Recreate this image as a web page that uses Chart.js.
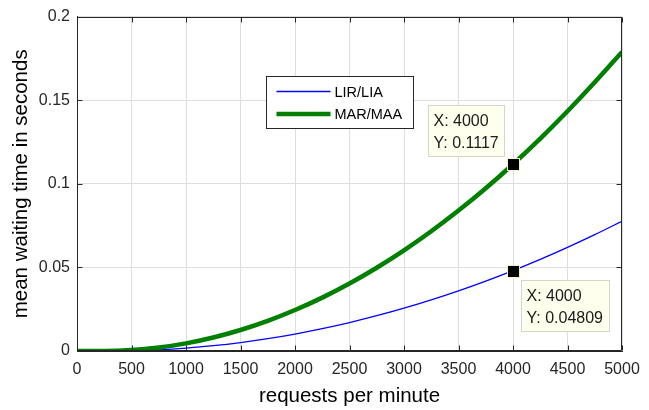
<!DOCTYPE html>
<html>
<head>
<meta charset="utf-8">
<script src="https://cdn.jsdelivr.net/npm/chart.js@4/dist/chart.umd.min.js"></script>
<style>
  html, body { margin: 0; padding: 0; background: #fff; }
  #wrap { width: 649px; height: 410px; }
</style>
</head>
<body>
<div id="wrap"><canvas id="waitChart"></canvas></div>
<script>
// requests per minute (x) and mean waiting time in seconds (y)
var requestRates = [0, 250, 500, 750, 1000, 1250, 1500, 1750, 2000, 2250, 2500,
                    2750, 3000, 3250, 3500, 3750, 4000, 4250, 4500, 4750, 5000];
var lirWait = [0, 0, 0.00014, 0.00071, 0.00172, 0.00317, 0.00506, 0.00739, 0.01015, 0.01336, 0.0170,
               0.02109, 0.02561, 0.03057, 0.03597, 0.04181, 0.04809, 0.05481, 0.06197, 0.06957, 0.0776];
var marWait = [0, 0, 0.00054, 0.00206, 0.00457, 0.00807, 0.01256, 0.01803, 0.02449, 0.03193, 0.04036,
               0.04978, 0.06019, 0.07159, 0.08397, 0.09734, 0.1117, 0.12703, 0.14336, 0.16068, 0.1789];
var seriesNames = ['LIR/LIA', 'MAR/MAA'];
var tipRate = 4000;

var axisColor = '#262626';
var gridColor = '#dedede';
var fontFamily = '"Liberation Sans", Arial, Helvetica, sans-serif';

function toPoints(ys) {
    var pts = [];
    for (var i = 0; i < requestRates.length; i++) {
        pts.push({x: requestRates[i], y: ys[i]});
    }
    return pts;
}

// box around the axes with inward tick marks on all four sides
var axesBox = {
    id: 'axesBox',
    afterDatasetsDraw: function (chart) {
        var ctx = chart.ctx, a = chart.chartArea;
        var xs = chart.scales.x, ys = chart.scales.y;
        var L = Math.round(a.left) + 0.5, R = Math.round(a.right) - 0.5;
        var T = Math.round(a.top) + 0.5, B = Math.round(a.bottom) - 0.5;
        ctx.save();
        ctx.strokeStyle = axisColor;
        ctx.lineWidth = 1;
        ctx.beginPath();
        ctx.rect(L, T, R - L, B - T);
        xs.ticks.forEach(function (t) {
            var px = Math.round(xs.getPixelForValue(t.value)) + 0.5;
            ctx.moveTo(px, B); ctx.lineTo(px, B - 5);
            ctx.moveTo(px, T); ctx.lineTo(px, T + 5);
        });
        ys.ticks.forEach(function (t) {
            var py = Math.round(ys.getPixelForValue(t.value)) + 0.5;
            ctx.moveTo(L, py); ctx.lineTo(L + 5, py);
            ctx.moveTo(R, py); ctx.lineTo(R - 5, py);
        });
        ctx.stroke();
        ctx.restore();
    }
};

// legend box inside the axes
var boxLegend = {
    id: 'boxLegend',
    afterDraw: function (chart) {
        var ctx = chart.ctx, a = chart.chartArea;
        var left = Math.round(a.left + 189) + 0.5, top = Math.round(a.top + 59) + 0.5;
        var w = 147, h = 52;
        ctx.save();
        ctx.fillStyle = '#ffffff';
        ctx.fillRect(left, top, w, h);
        ctx.strokeStyle = axisColor;
        ctx.lineWidth = 1;
        ctx.strokeRect(left, top, w, h);
        ctx.font = '14.5px ' + fontFamily;
        ctx.textBaseline = 'middle';
        ctx.textAlign = 'left';
        chart.data.datasets.forEach(function (ds, i) {
            var y = top + 15 + i * 22.5;
            ctx.strokeStyle = ds.borderColor;
            ctx.lineWidth = ds.borderWidth;
            ctx.beginPath();
            ctx.moveTo(left + 10, y);
            ctx.lineTo(left + 64, y);
            ctx.stroke();
            ctx.fillStyle = '#000000';
            ctx.fillText(ds.label, left + 68, y + 1);
        });
        ctx.restore();
    }
};

// data tips marking both curves at tipRate
var dataTips = {
    id: 'dataTips',
    afterDraw: function (chart) {
        var ctx = chart.ctx;
        var xs = chart.scales.x, ys = chart.scales.y;
        var idx = requestRates.indexOf(tipRate);
        var tips = [
            {value: marWait[idx], side: 'upleft'},
            {value: lirWait[idx], side: 'downright'}
        ];
        ctx.save();
        ctx.font = '16px ' + fontFamily;
        ctx.textBaseline = 'middle';
        ctx.textAlign = 'left';
        tips.forEach(function (tip) {
            var px = xs.getPixelForValue(tipRate);
            var py = ys.getPixelForValue(tip.value);
            var lines = ['X: ' + tipRate, 'Y: ' + Number(tip.value.toPrecision(4))];
            var tw = Math.max(ctx.measureText(lines[0]).width, ctx.measureText(lines[1]).width);
            var bw = Math.round(tw + 11), bh = 51;
            var bx, by;
            if (tip.side === 'upleft') {
                bx = Math.round(px - 9 - bw) + 0.5;
                by = Math.round(py - 8 - bh) + 0.5;
            } else {
                bx = Math.round(px + 8) + 0.5;
                by = Math.round(py + 9) + 0.5;
            }
            ctx.fillStyle = '#ffffee';
            ctx.fillRect(bx, by, bw, bh);
            ctx.strokeStyle = '#d6d6c6';
            ctx.lineWidth = 1;
            ctx.strokeRect(bx, by, bw, bh);
            ctx.fillStyle = '#1a1a1a';
            ctx.fillText(lines[0], bx + 5, by + 16);
            ctx.fillText(lines[1], bx + 5, by + 38);
            // marker
            ctx.fillStyle = '#000000';
            ctx.fillRect(Math.round(px) - 5, Math.round(py) - 5, 11, 11);
            ctx.strokeStyle = '#f4f0c0';
            ctx.strokeRect(Math.round(px) - 5.5, Math.round(py) - 5.5, 12, 12);
        });
        ctx.restore();
    }
};

var cfg = {
    type: 'line',
    data: {
        datasets: [{
            label: seriesNames[0],
            data: toPoints(lirWait),
            borderColor: '#0000ff',
            borderWidth: 1.3,
            pointRadius: 0,
            cubicInterpolationMode: 'monotone',
            fill: false,
            order: 1
        }, {
            label: seriesNames[1],
            data: toPoints(marWait),
            borderColor: '#008000',
            borderWidth: 4.5,
            pointRadius: 0,
            cubicInterpolationMode: 'monotone',
            fill: false,
            order: 0
        }]
    },
    options: {
        responsive: true,
        maintainAspectRatio: false,
        animation: false,
        layout: {
            padding: {left: 0, right: 27, top: 15, bottom: 0}
        },
        plugins: {
            legend: {display: false},
            tooltip: {enabled: false}
        },
        scales: {
            x: {
                type: 'linear',
                min: 0,
                max: 5000,
                afterFit: function (scale) { scale.height = 59; },
                ticks: {
                    stepSize: 500,
                    color: axisColor,
                    padding: 9,
                    maxRotation: 0,
                    font: {family: fontFamily, size: 16},
                    callback: function (v) { return String(v); }
                },
                grid: {color: gridColor, drawTicks: false},
                border: {color: axisColor},
                title: {
                    display: true,
                    text: 'requests per minute',
                    color: '#000000',
                    padding: {top: 0, bottom: 1},
                    font: {family: fontFamily, size: 20.5}
                }
            },
            y: {
                min: 0,
                max: 0.2,
                afterFit: function (scale) { scale.width = 77; },
                ticks: {
                    stepSize: 0.05,
                    color: axisColor,
                    padding: 7,
                    font: {family: fontFamily, size: 16},
                    callback: function (v) { return String(Number(v.toFixed(4))); }
                },
                grid: {color: gridColor, drawTicks: false},
                border: {color: axisColor},
                title: {
                    display: true,
                    text: 'mean waiting time in seconds',
                    color: '#000000',
                    padding: {top: 9, bottom: 0},
                    font: {family: fontFamily, size: 20.5}
                }
            }
        }
    },
    plugins: [axesBox, boxLegend, dataTips]
};

window.onload = function () {
    var ctx = document.getElementById('waitChart').getContext('2d');
    window.waitChart = new Chart(ctx, cfg);
};
</script>
</body>
</html>
